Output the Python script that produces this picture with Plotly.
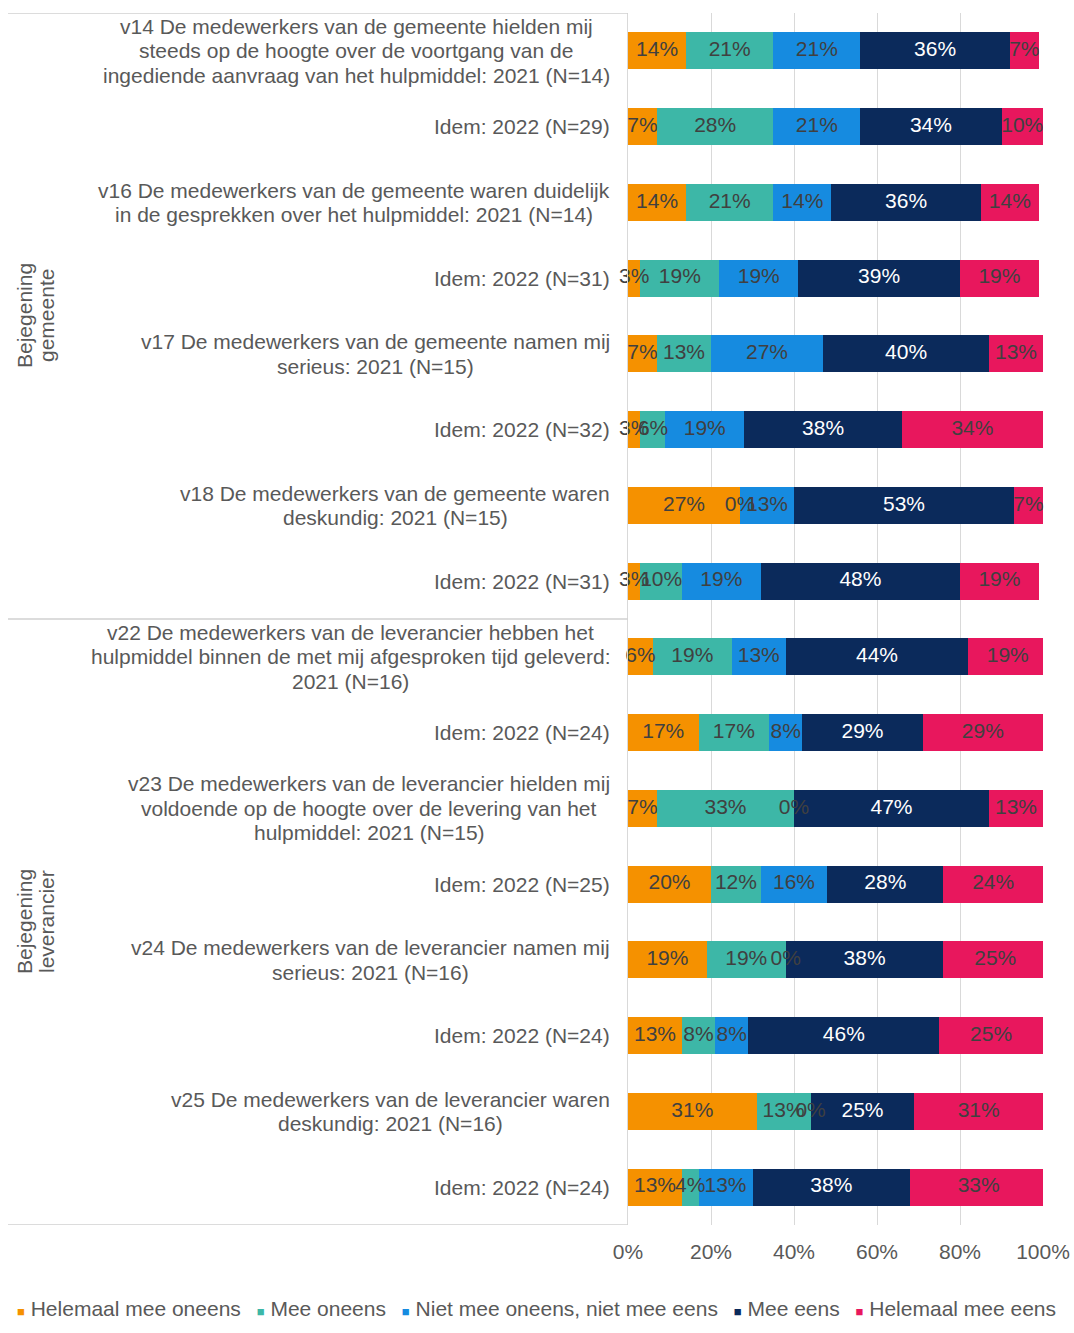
import plotly.graph_objects as go

# Survey items (top to bottom) and the share of answers per response option, in percent
items = [
    "v14 De medewerkers van de gemeente hielden mij<br>steeds op de hoogte over de voortgang van de<br>ingediende aanvraag van het hulpmiddel: 2021 (N=14)",
    "Idem: 2022 (N=29)",
    "v16 De medewerkers van de gemeente waren duidelijk<br>in de gesprekken over het hulpmiddel: 2021 (N=14)",
    "Idem: 2022 (N=31)",
    "v17 De medewerkers van de gemeente namen mij<br>serieus: 2021 (N=15)",
    "Idem: 2022 (N=32)",
    "v18 De medewerkers van de gemeente waren<br>deskundig: 2021 (N=15)",
    "Idem: 2022 (N=31)",
    "v22 De medewerkers van de leverancier hebben het<br>hulpmiddel binnen de met mij afgesproken tijd geleverd:<br>2021 (N=16)",
    "Idem: 2022 (N=24)",
    "v23 De medewerkers van de leverancier hielden mij<br>voldoende op de hoogte over de levering van het<br>hulpmiddel: 2021 (N=15)",
    "Idem: 2022 (N=25)",
    "v24 De medewerkers van de leverancier namen mij<br>serieus: 2021 (N=16)",
    "Idem: 2022 (N=24)",
    "v25 De medewerkers van de leverancier waren<br>deskundig: 2021 (N=16)",
    "Idem: 2022 (N=24)",
]

groups = ["Bejegening<br>gemeente", "Bejegening<br>leverancier"]
group_rows = [(0, 7), (8, 15)]

series_names = [
    "Helemaal mee oneens",
    "Mee oneens",
    "Niet mee oneens, niet mee eens",
    "Mee eens",
    "Helemaal mee eens",
]

helemaal_mee_oneens = [14, 7, 14, 3, 7, 3, 27, 3, 6, 17, 7, 20, 19, 13, 31, 13]
mee_oneens = [21, 28, 21, 19, 13, 6, 0, 10, 19, 17, 33, 12, 19, 8, 13, 4]
neutraal = [21, 21, 14, 19, 27, 19, 13, 19, 13, 8, 0, 16, 0, 8, 0, 13]
mee_eens = [36, 34, 36, 39, 40, 38, 53, 48, 44, 29, 47, 28, 38, 46, 25, 38]
helemaal_mee_eens = [7, 10, 14, 19, 13, 34, 7, 19, 19, 29, 13, 24, 25, 25, 31, 33]

series_values = [helemaal_mee_oneens, mee_oneens, neutraal, mee_eens, helemaal_mee_eens]
colors = ["#F59100", "#3DB7A7", "#168BE0", "#0B2A5B", "#E8175D"]
label_colors = ["#404040", "#404040", "#404040", "#FFFFFF", "#404040"]

tick_vals = [0, 20, 40, 60, 80, 100]
tick_text = ["0%", "20%", "40%", "60%", "80%", "100%"]

FONT = "Liberation Sans, Arial, sans-serif"
GREY = "#595959"
FS = 21          # text size
LINE_H = 24.5    # spacing between wrapped label lines, px

W, H = 1074, 1333
L, R, T, B = 628, 31, 13, 108
PW = W - L - R
PH = H - T - B

# Advance widths of Liberation Sans (Arial metrics), per 1000 units of the em
_ADV = {
    " ": 278, "(": 333, ")": 333, ":": 278, "=": 584, ",": 278,
    "a": 556, "b": 556, "c": 500, "d": 556, "e": 556, "f": 278, "g": 556,
    "h": 556, "i": 222, "j": 222, "k": 500, "l": 222, "m": 833, "n": 556,
    "o": 556, "p": 556, "q": 556, "r": 333, "s": 500, "t": 278, "u": 556,
    "v": 500, "w": 722, "x": 500, "y": 500, "z": 500,
    "B": 667, "D": 722, "I": 278, "N": 722,
}


def text_width(s, size=FS):
    return sum(_ADV.get(ch, 556) for ch in s) * size / 1000


def px_x(p):
    """Horizontal pixel position -> paper coordinate."""
    return (p - L) / PW


def px_y(p):
    """Vertical pixel position -> paper coordinate."""
    return (H - B - p) / PH


rows = list(range(len(items)))

fig = go.Figure()

for name, vals, col in zip(series_names, series_values, colors):
    fig.add_trace(go.Bar(
        name=name, y=rows, x=vals, orientation="h",
        marker=dict(color=col, line=dict(width=0)),
        hoverinfo="skip", showlegend=False,
    ))

# Data labels centred on each segment (also shown for 0% segments)
lx, ly, lt, lc = [], [], [], []
for i in rows:
    start = 0
    for vals, tc in zip(series_values, label_colors):
        v = vals[i]
        lx.append(start + v / 2)
        ly.append(i)
        lt.append(f"{v}%")
        lc.append(tc)
        start += v
fig.add_trace(go.Scatter(
    x=lx, y=ly, text=lt, mode="text",
    textfont=dict(family=FONT, size=FS, color=lc),
    textposition="middle center", cliponaxis=False,
    hoverinfo="skip", showlegend=False,
))

annotations = []
# Category labels: a centred block of lines whose widest line ends at the label edge
LABEL_RIGHT = 610
for i, txt in zip(rows, items):
    lines = txt.split("<br>")
    n = len(lines)
    block_w = max(text_width(s) for s in lines)
    cx = LABEL_RIGHT - block_w / 2
    for k, line in enumerate(lines):
        annotations.append(dict(
            xref="paper", yref="y", x=px_x(cx), y=i, text=line,
            xanchor="center", yanchor="middle", align="center",
            yshift=((n - 1) / 2 - k) * LINE_H, showarrow=False,
            font=dict(family=FONT, size=FS, color=GREY),
        ))

# Group labels of the outer category level, rotated
for g, (a, b) in zip(groups, group_rows):
    lines = g.split("<br>")
    n = len(lines)
    for k, line in enumerate(lines):
        annotations.append(dict(
            xref="paper", yref="y", x=px_x(35), y=(a + b) / 2, text=line,
            textangle=-90, xanchor="center", yanchor="middle",
            xshift=(k - (n - 1) / 2) * 22, showarrow=False,
            font=dict(family=FONT, size=FS, color=GREY),
        ))

legend_parts = []
for name, col in zip(series_names, colors):
    legend_parts.append(
        f"<span style='color:{col};font-size:13px'>■</span>&nbsp;{name}"
    )
annotations.append(dict(
    xref="paper", yref="paper", x=px_x(536), y=px_y(1308),
    text="&nbsp;&nbsp;&#8201;".join(legend_parts), xanchor="center", yanchor="middle",
    showarrow=False, font=dict(family=FONT, size=FS, color=GREY),
))

# Category box lines of the grouped axis
shapes = []
for yb in [-0.5, 7.5, 15.5]:
    shapes.append(dict(
        type="line", xref="paper", yref="y", x0=px_x(8), x1=0, y0=yb, y1=yb,
        line=dict(color="#D0D0D0", width=1.5),
    ))

fig.update_layout(
    width=W, height=H,
    margin=dict(l=L, r=R, t=T, b=B, autoexpand=False),
    barmode="stack", bargap=0.51,
    plot_bgcolor="white", paper_bgcolor="white",
    font=dict(family=FONT, color=GREY),
    annotations=annotations, shapes=shapes,
    showlegend=False,
)
fig.update_xaxes(
    range=[0, 100], tickvals=tick_vals, ticktext=tick_text,
    showgrid=True, gridcolor="#D9D9D9", gridwidth=1,
    zeroline=False, showline=False, automargin=False,
    ticks="outside", ticklen=8, tickcolor="rgba(0,0,0,0)",
    tickfont=dict(family=FONT, size=FS, color=GREY),
)
fig.update_yaxes(
    range=[15.5, -0.5], showticklabels=False, showgrid=False,
    zeroline=False, showline=True, linecolor="#D9D9D9", linewidth=1,
    automargin=False,
)

fig.write_html("out.html")
